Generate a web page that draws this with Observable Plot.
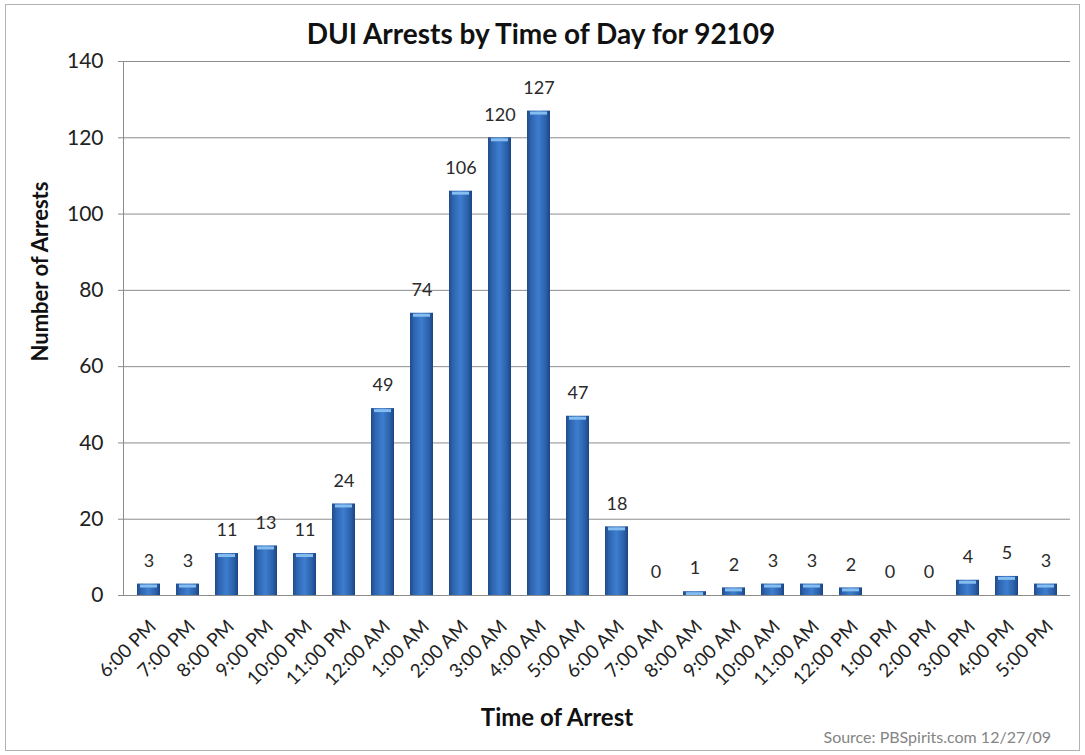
<!DOCTYPE html>
<html>
<head>
<meta charset="utf-8">
<script src="https://cdn.jsdelivr.net/npm/d3@7"></script>
<script src="https://cdn.jsdelivr.net/npm/@observablehq/plot@0.6"></script>
<style>
  html, body { margin: 0; padding: 0; background: #fff; }
  body { position: relative; width: 1085px; height: 755px; overflow: hidden; font-family: Lato, "Open Sans", sans-serif; }
  #border { position: absolute; left: 5px; top: 4px; width: 1075px; height: 747px; border: 1px solid #b3b3b3; box-sizing: border-box; }
  #title { position: relative; height: 40px; padding-top: 19px; line-height: 28px; box-sizing: border-box; overflow: visible; white-space: nowrap; width: 1082px; text-align: center; font-size: 28px; font-weight: bold; color: #111; }
  #chart { position: relative; }
  #caption { position: absolute; left: 0; top: 727px; width: 1051px; text-align: right; font-size: 16px; line-height: 20px; color: #858585; }
</style>
</head>
<body>
<div id="border"></div>
<div id="title">DUI Arrests by Time of Day for 92109</div>
<div id="chart"></div>
<div id="caption">Source: PBSpirits.com 12/27/09</div>
<script>
const hours = ["6:00 PM","7:00 PM","8:00 PM","9:00 PM","10:00 PM","11:00 PM","12:00 AM","1:00 AM","2:00 AM","3:00 AM","4:00 AM","5:00 AM","6:00 AM","7:00 AM","8:00 AM","9:00 AM","10:00 AM","11:00 AM","12:00 PM","1:00 PM","2:00 PM","3:00 PM","4:00 PM","5:00 PM"];
const arrests = [3,3,11,13,11,24,49,74,106,120,127,47,18,0,1,2,3,3,2,0,0,4,5,3];
const yTicks = [0,20,40,60,80,100,120,140];
const yTitle = "Number of Arrests";
const xTitle = "Time of Arrest";

const rows = hours.map((h, i) => ({hour: h, count: arrests[i]}));

const svg = Plot.plot({
  width: 1085,
  height: 715,
  marginTop: 21,
  marginLeft: 123,
  marginRight: 15,
  marginBottom: 160,
  style: {fontFamily: "Lato, 'Open Sans', sans-serif", color: "#222", background: "transparent", overflow: "visible"},
  x: {domain: hours, paddingInner: 0.42, paddingOuter: 0.21, label: null},
  y: {domain: [0, 140], label: null},
  marks: [
    Plot.gridY(yTicks, {stroke: "#8c8c8c", strokeOpacity: 1, insetLeft: -5}),
    Plot.frame({anchor: "left", stroke: "#8c8c8c"}),
    Plot.barY(rows, {x: "hour", y: "count", fill: "url(#barGrad)"}),
    Plot.tickY(rows.filter(d => d.count > 0), {x: "hour", y: "count", stroke: "#86bdf0", strokeWidth: 3, dy: 2, inset: 3}),
    Plot.ruleY([0], {stroke: "#8c8c8c"}),
    Plot.text(rows, {x: "hour", y: "count", text: d => String(d.count), dy: -23, fontSize: 18, fill: "#2a2a2a"}),
    Plot.axisY(yTicks, {tickSize: 0, tickPadding: 20, fontSize: 21, label: null}),
    Plot.axisX({tickRotate: -45, tickSize: 0, tickPadding: 28, dx: 4, fontSize: 19, label: null}),
    Plot.text([yTitle], {frameAnchor: "left", rotate: -90, dx: -83, dy: 33, fontSize: 22, fontWeight: "bold", fill: "#111"}),
    Plot.text([xTitle], {frameAnchor: "bottom", dx: -40, dy: 130, fontSize: 24, fontWeight: "bold", fill: "#111"})
  ]
});

svg.insertAdjacentHTML("afterbegin",
  `<defs><linearGradient id="barGrad" x1="0" y1="0" x2="1" y2="0">
     <stop offset="0" stop-color="#1f4c8a"/>
     <stop offset="0.18" stop-color="#2e65b0"/>
     <stop offset="0.5" stop-color="#3d7dcf"/>
     <stop offset="0.82" stop-color="#2b60a9"/>
     <stop offset="1" stop-color="#1b4482"/>
   </linearGradient></defs>`);

document.getElementById("chart").appendChild(svg);
</script>
</body>
</html>
